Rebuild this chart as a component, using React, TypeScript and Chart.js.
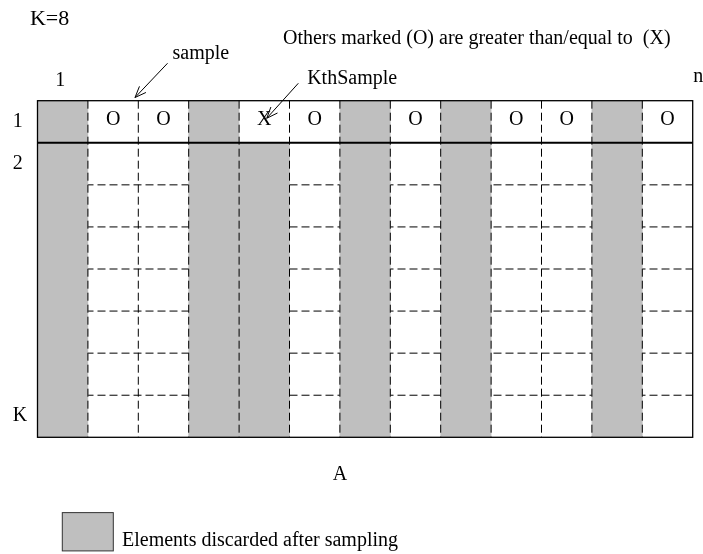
import { useEffect, useRef } from 'react';
import { Chart, registerables } from 'chart.js';

Chart.register(...registerables);

// ---- data ----
const K = 8;
const columns = ['1', '2', '3', '4', '5', '6', '7', '8', '9', '10', '11', '12', '13'];
// first discarded row (0 = row 1) per column; null = column kept
const discardedFrom: (number | null)[] = [0, null, null, 0, 1, null, 0, null, 0, null, null, 0, null];
// marks in the sample row (row 1)
const sampleMarks = ['', 'O', 'O', '', 'X', 'O', '', 'O', '', 'O', 'O', '', 'O'];
const rowLabels = ['1', '2', '', '', '', '', '', 'K'];
const legendLabel = 'Elements discarded after sampling';

// ---- annotations (positions in column / row units of the grid) ----
const texts = [
  { t: 'K=8', u: -0.15, v: -1.8, align: 'left', size: 22 },
  { t: 'Others marked (O) are greater than/equal to  (X)', u: 4.87, v: -1.35, align: 'left', size: 20 },
  { t: 'sample', u: 2.68, v: -0.98, align: 'left', size: 20 },
  { t: '1', u: 0.45, v: -0.35, align: 'center', size: 20 },
  { t: 'KthSample', u: 5.35, v: -0.39, align: 'left', size: 20 },
  { t: 'n', u: 13.01, v: -0.44, align: 'left', size: 20 },
  { t: 'A', u: 6.0, v: 9.02, align: 'center', size: 20 },
];
const arrows = [
  { u1: 2.58, v1: -0.89, u2: 1.935, v2: -0.076 },
  { u1: 5.175, v1: -0.414, u2: 4.548, v2: 0.418 },
];

const FONT = '"Liberation Serif", "Times New Roman", serif';
const GRAY = '#bfbfbf';

const diagramPlugin = {
  id: 'diagram',
  beforeDatasetsDraw(chart: any) {
    const { ctx, chartArea: a, scales } = chart;
    const y = scales.y;
    ctx.save();
    ctx.strokeStyle = '#000';
    ctx.lineWidth = 1;
    ctx.setLineDash([8, 4]);
    for (let r = 2; r < K; r++) {
      const py = y.getPixelForValue(r);
      ctx.beginPath();
      ctx.moveTo(a.left, py);
      ctx.lineTo(a.right, py);
      ctx.stroke();
    }
    ctx.restore();
  },
  afterDatasetsDraw(chart: any) {
    const { ctx, chartArea: a, scales } = chart;
    const x = scales.x;
    const y = scales.y;
    ctx.save();
    ctx.strokeStyle = '#000';
    ctx.lineWidth = 1;
    ctx.setLineDash([8, 4]);
    for (let i = 0; i < columns.length - 1; i++) {
      const px = x.getPixelForValue(i + 0.5);
      ctx.beginPath();
      ctx.moveTo(px, a.top);
      ctx.lineTo(px, a.bottom);
      ctx.stroke();
    }
    ctx.setLineDash([]);
    ctx.lineWidth = 2;
    const py1 = y.getPixelForValue(1);
    ctx.beginPath();
    ctx.moveTo(a.left, py1);
    ctx.lineTo(a.right, py1);
    ctx.stroke();
    ctx.lineWidth = 1.3;
    ctx.strokeRect(a.left, a.top, a.right - a.left, a.bottom - a.top);

    ctx.fillStyle = '#000';
    ctx.font = `20px ${FONT}`;
    ctx.textAlign = 'center';
    ctx.textBaseline = 'middle';
    sampleMarks.forEach((m, i) => {
      if (!m) return;
      ctx.fillText(m, x.getPixelForValue(i), y.getPixelForValue(0.45));
    });
    ctx.restore();
  },
  afterDraw(chart: any) {
    const { ctx, scales } = chart;
    const x = scales.x;
    const y = scales.y;
    const px = (u: number) => x.getPixelForValue(u - 0.5);
    const py = (v: number) => y.getPixelForValue(v);
    ctx.save();
    ctx.fillStyle = '#000';
    ctx.textBaseline = 'alphabetic';
    texts.forEach((t) => {
      ctx.font = `${t.size}px ${FONT}`;
      ctx.textAlign = t.align;
      ctx.fillText(t.t, px(t.u), py(t.v));
    });
    ctx.font = `20px ${FONT}`;
    ctx.textAlign = 'left';
    rowLabels.forEach((l, r) => {
      if (!l) return;
      ctx.fillText(l, px(-0.49), py(r + 0.62));
    });

    ctx.strokeStyle = '#000';
    ctx.lineWidth = 1;
    arrows.forEach((ar) => {
      const x1 = px(ar.u1), y1 = py(ar.v1), x2 = px(ar.u2), y2 = py(ar.v2);
      ctx.beginPath();
      ctx.moveTo(x1, y1);
      ctx.lineTo(x2, y2);
      ctx.stroke();
      const ang = Math.atan2(y2 - y1, x2 - x1);
      const len = 12;
      const spread = 0.38;
      ctx.beginPath();
      ctx.moveTo(x2 - len * Math.cos(ang - spread), y2 - len * Math.sin(ang - spread));
      ctx.lineTo(x2, y2);
      ctx.lineTo(x2 - len * Math.cos(ang + spread), y2 - len * Math.sin(ang + spread));
      ctx.stroke();
    });

    // legend
    const bx = px(0.492), by = py(9.79), bw = px(1.504) - px(0.492), bh = py(10.7) - py(9.79);
    ctx.fillStyle = GRAY;
    ctx.fillRect(bx, by, bw, bh);
    ctx.strokeStyle = '#333';
    ctx.lineWidth = 1;
    ctx.strokeRect(bx, by, bw, bh);
    ctx.fillStyle = '#000';
    ctx.fillText(chart.data.datasets[0].label, px(1.677), py(10.58));
    ctx.restore();
  },
};

export default function App() {
  const ref = useRef<HTMLCanvasElement | null>(null);
  useEffect(() => {
    if (!ref.current) return;
    const chart = new Chart(ref.current, {
      type: 'bar',
      data: {
        labels: columns,
        datasets: [
          {
            label: legendLabel,
            data: columns.map((_, i) => (discardedFrom[i] === null ? null : [discardedFrom[i] as number, K])) as any,
            backgroundColor: GRAY,
            borderWidth: 0,
            barPercentage: 1,
            categoryPercentage: 1,
          },
        ],
      },
      options: {
        responsive: false,
        animation: false,
        events: [],
        layout: { padding: { left: 37.5, right: 10.3, top: 100.7, bottom: 116.7 } },
        scales: {
          x: { type: 'category', display: false, offset: true },
          y: { type: 'linear', display: false, min: 0, max: K, reverse: true },
        },
        plugins: { legend: { display: false }, tooltip: { enabled: false } },
      },
      plugins: [diagramPlugin],
    });
    return () => chart.destroy();
  }, []);
  return (
    <div style={{ position: 'absolute', left: 0, top: 0, width: 703, height: 554, background: '#fff' }}>
      <canvas ref={ref} width={703} height={554} style={{ width: 703, height: 554 }} />
    </div>
  );
}
